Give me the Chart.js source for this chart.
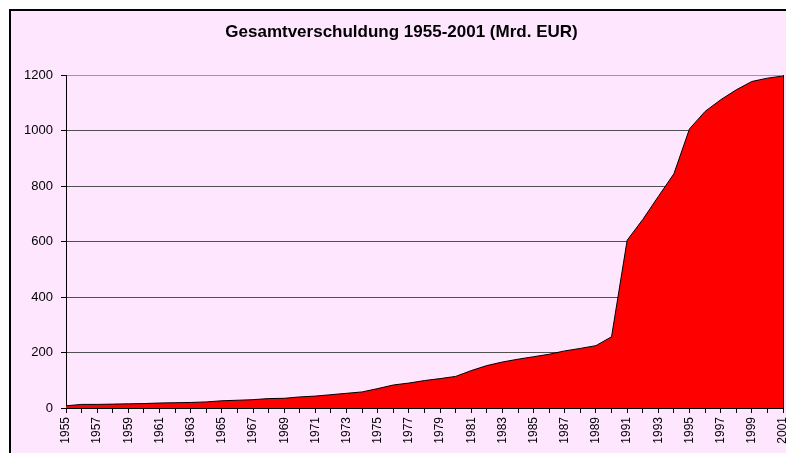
<!DOCTYPE html>
<html>
<head>
<meta charset="utf-8">
<script src="https://cdn.jsdelivr.net/npm/chart.js@4.4.0/dist/chart.umd.min.js"></script>
<style>
  html, body { margin: 0; padding: 0; background: #fff; }
  #wrap { width: 786px; height: 453px; }
</style>
</head>
<body>
<div id="wrap"><canvas id="myChart" width="786" height="453"></canvas></div>
<script>
// years on the x axis
const years = [
  "1955", "1956", "1957", "1958", "1959", "1960", "1961", "1962", "1963", "1964",
  "1965", "1966", "1967", "1968", "1969", "1970", "1971", "1972", "1973", "1974",
  "1975", "1976", "1977", "1978", "1979", "1980", "1981", "1982", "1983", "1984",
  "1985", "1986", "1987", "1988", "1989", "1990", "1991", "1992", "1993", "1994",
  "1995", "1996", "1997", "1998", "1999", "2000", "2001",
];

// Gesamtverschuldung in Mrd. EUR
const debt = [
  8, 13, 13, 14, 15, 16, 18, 19, 20, 22,
  26, 28, 30, 34, 35, 40, 43, 48, 53, 58,
  70, 83, 90, 99, 106, 114, 135, 153, 166, 176,
  185, 194, 206, 215, 225, 257, 605, 680, 763, 845,
  1007, 1070, 1112, 1148, 1178, 1190, 1198,
];

const yTicks = [0, 200, 400, 600, 800, 1000, 1200];

const chartTitle = "Gesamtverschuldung 1955-2001 (Mrd. EUR)";
const fontFamily = "'Liberation Sans', Arial, sans-serif";

// pink chart frame like the old Excel chart
const framePlugin = {
  id: "frame",
  beforeDraw(chart) {
    const ctx = chart.ctx;
    ctx.save();
    ctx.fillStyle = "#ffffff";
    ctx.fillRect(0, 0, chart.width, chart.height);
    ctx.fillStyle = "#ffe6ff";
    ctx.fillRect(10, 10, chart.width, chart.height);
    ctx.strokeStyle = "#000000";
    ctx.lineWidth = 2;
    ctx.beginPath();
    ctx.moveTo(10, chart.height + 5);
    ctx.lineTo(10, 10);
    ctx.lineTo(chart.width + 5, 10);
    ctx.stroke();
    ctx.restore();
  },
};

function myLoadFunction() {
  const ctx = document.getElementById("myChart").getContext("2d");
  var myChartConfig = {
    type: "line",
    data: {
      labels: years,
      datasets: [
        {
          label: "Gesamtverschuldung",
          data: debt,
          borderColor: "#000000",
          borderWidth: 1,
          backgroundColor: "#ff0000",
          fill: "origin",
          pointRadius: 0,
          tension: 0,
        },
      ],
    },
    options: {
      responsive: false,
      animation: false,
      devicePixelRatio: 1,
      layout: {
        padding: { left: 20, right: 3, top: 0, bottom: 0 },
      },
      plugins: {
        legend: { display: false },
        tooltip: { enabled: false },
        title: {
          display: true,
          text: chartTitle,
          color: "#000000",
          font: { family: fontFamily, size: 17, weight: "bold" },
          padding: { top: 22, bottom: 33 },
        },
      },
      scales: {
        x: {
          type: "category",
          offset: false,
          grid: {
            drawOnChartArea: false,
            drawTicks: true,
            tickLength: 5,
            color: "#000000",
          },
          border: { color: "#000000", width: 1 },
          ticks: {
            autoSkip: false,
            minRotation: 90,
            maxRotation: 90,
            padding: 4,
            color: "#000000",
            font: { family: fontFamily, size: 12 },
            callback: function (value, index) {
              return index % 2 === 0 ? years[index] : "";
            },
          },
          afterFit: function (scale) {
            scale.height = 45;
            scale.paddingLeft = 0;
            scale.paddingRight = 0;
          },
        },
        y: {
          min: 0,
          max: 1200,
          afterBuildTicks: function (scale) {
            scale.ticks = yTicks.map((v) => ({ value: v }));
          },
          grid: {
            color: function (c) {
              return c.tick && c.tick.value === 1200 ? "#9a9a9a" : "#505050";
            },
            tickColor: "#000000",
            tickLength: 5,
          },
          border: { color: "#000000", width: 1 },
          ticks: {
            padding: 8,
            color: "#000000",
            font: { family: fontFamily, size: 13 },
            callback: function (value) {
              return String(value);
            },
          },
          afterFit: function (scale) {
            scale.width = 46;
          },
        },
        y2: {
          position: "right",
          min: 0,
          max: 1200,
          grid: { display: false, drawTicks: false },
          border: { display: true, color: "#000000", width: 1 },
          ticks: { display: false },
          afterFit: function (scale) {
            scale.width = 0;
          },
        },
      },
    },
    plugins: [framePlugin],
  };
  const myChart = new Chart(ctx, myChartConfig);
}

document.addEventListener("DOMContentLoaded", myLoadFunction);
</script>
</body>
</html>
